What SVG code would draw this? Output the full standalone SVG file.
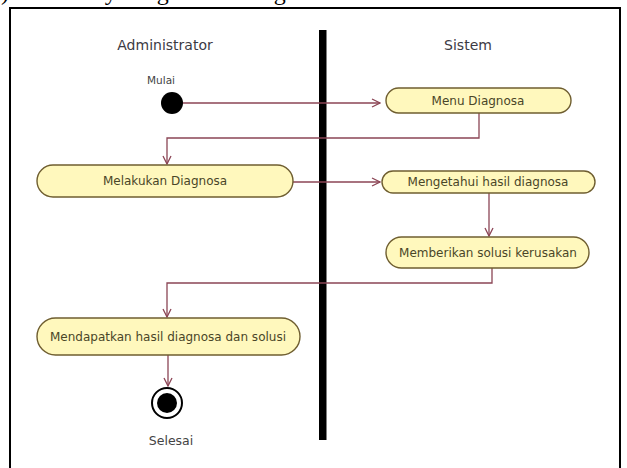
<svg xmlns="http://www.w3.org/2000/svg" width="627" height="468" viewBox="0 0 627 468">
  <defs>
    <style>
      .frame { fill: none; stroke: #000; stroke-width: 2; }
      .lane { fill: #000; }
      .lanelbl { font-family: "DejaVu Sans", Verdana, sans-serif; font-size: 14px; fill: #3c3a44; text-anchor: middle; }
      .small { font-family: "DejaVu Sans", Verdana, sans-serif; font-size: 10.5px; fill: #444; text-anchor: middle; }
      .act rect { fill: #fff8bd; stroke: #6f5e30; stroke-width: 1.4; }
      .act text { font-family: "DejaVu Sans", Verdana, sans-serif; font-size: 12px; fill: #4a4628; text-anchor: middle; dominant-baseline: central; }
      .flow { fill: none; stroke: #8b4555; stroke-width: 1.3; }
      .caption { font-family: "Liberation Serif", "Times New Roman", serif; font-size: 24px; fill: #000; }
    </style>
    <marker id="open" markerWidth="10" markerHeight="10" refX="9" refY="5" orient="auto" markerUnits="userSpaceOnUse">
      <path d="M1,1 L9,5 L1,9" fill="none" stroke="#8b4555" stroke-width="1.3"/>
    </marker>
  </defs>

  <rect width="627" height="468" fill="#fff"/>

  <!-- caption line above the frame, mostly cut off by the top edge -->
  <text class="caption" y="0"><tspan x="-11">b)</tspan><tspan x="38">Activity</tspan><tspan x="122">Diagram</tspan><tspan x="239">Diagnosa</tspan></text>

  <!-- frame and swimlane divider -->
  <path class="frame" d="M10,480 L10,8 L620,8 L620,480"/>
  <rect class="lane" x="319" y="30" width="7.5" height="410"/>

  <text class="lanelbl" x="165" y="50">Administrator</text>
  <text class="lanelbl" x="468" y="50">Sistem</text>

  <!-- connectors -->
  <g id="connectors">
    <path class="flow" d="M183,103 L380,103" marker-end="url(#open)"/>
    <path class="flow" d="M479,113 L479,138 L167,138 L167,164" marker-end="url(#open)"/>
    <path class="flow" d="M293,182 L380,182" marker-end="url(#open)"/>
    <path class="flow" d="M489,193 L489,236" marker-end="url(#open)"/>
    <path class="flow" d="M492,268 L492,283 L167,283 L167,317" marker-end="url(#open)"/>
    <path class="flow" d="M168,355 L168,386" marker-end="url(#open)"/>
  </g>

  <!-- start node -->
  <g id="start">
    <text class="small" x="161" y="84">Mulai</text>
    <circle cx="172" cy="103" r="11" fill="#000"/>
  </g>

  <g id="menu-diagnosa" class="act">
    <rect x="386" y="88" width="185" height="25" rx="12.5"/>
    <text x="478" y="100.5">Menu Diagnosa</text>
  </g>

  <g id="melakukan-diagnosa" class="act">
    <rect x="37" y="165" width="256" height="32" rx="16"/>
    <text x="165" y="181">Melakukan Diagnosa</text>
  </g>

  <g id="mengetahui-hasil" class="act">
    <rect x="382" y="171" width="213" height="22" rx="11"/>
    <text x="488" y="182">Mengetahui hasil diagnosa</text>
  </g>

  <g id="memberikan-solusi" class="act">
    <rect x="386" y="237" width="203" height="31" rx="15.5"/>
    <text x="488" y="252.5">Memberikan solusi kerusakan</text>
  </g>

  <g id="mendapatkan-hasil" class="act">
    <rect x="37" y="318" width="263" height="37" rx="18.5"/>
    <text x="168" y="336.5">Mendapatkan hasil diagnosa dan solusi</text>
  </g>

  <!-- final node -->
  <g id="end">
    <circle cx="167" cy="403" r="15" fill="#fff" stroke="#000" stroke-width="2"/>
    <circle cx="167" cy="403" r="10" fill="#000"/>
    <text class="small" x="171" y="445" style="font-size:12.5px">Selesai</text>
  </g>
</svg>
